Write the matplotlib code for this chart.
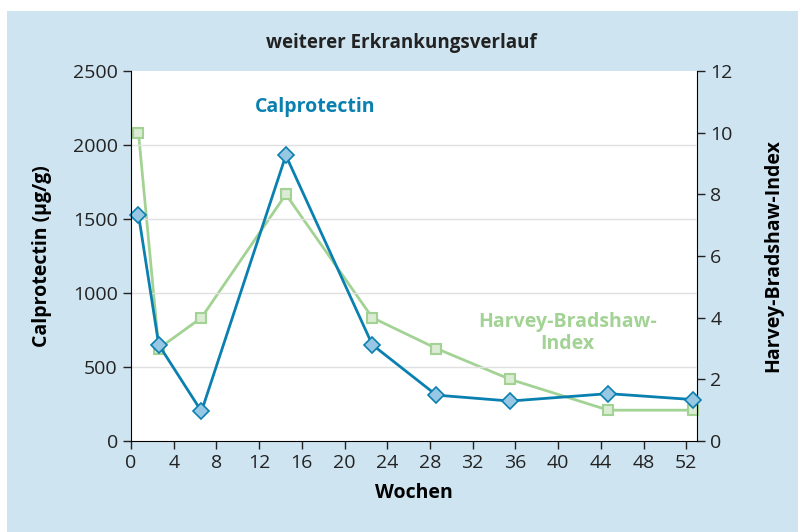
import matplotlib
matplotlib.use("Agg")
import matplotlib.pyplot as plt
from matplotlib.patches import Rectangle

plt.rcParams["font.family"] = ["Open Sans", "DejaVu Sans"]

# weeks and values
wochen_cal = [0.7, 2.6, 6.6, 14.5, 22.6, 28.6, 35.5, 44.7, 52.6]
calprotectin = [1530, 650, 200, 1930, 650, 310, 270, 320, 280]
wochen_hbi = [0.7, 2.6, 6.6, 14.5, 22.6, 28.6, 35.5, 44.7, 52.6]
hbi = [10, 3, 4, 8, 4, 3, 2, 1, 1]

x_ticks = list(range(0, 53, 4))
cal_ticks = [0, 500, 1000, 1500, 2000, 2500]
hbi_ticks = [0, 2, 4, 6, 8, 10, 12]

blue = "#0a80b0"
blue_face = "#97c7e3"
green = "#a3d394"
green_face = "#dcebd3"
panel = "#cfe4f1"

fig = plt.figure(figsize=(8.02, 5.32), dpi=100)
fig.patch.set_facecolor("white")
fig.patches.append(Rectangle((7 / 802, 0), 791 / 802, 1 - 11 / 532,
                             transform=fig.transFigure, facecolor=panel,
                             edgecolor="none", zorder=-10))

ax = fig.add_axes([131 / 802, 1 - 441 / 532, 566 / 802, 370 / 532])
ax2 = ax.twinx()
ax2.set_zorder(1)
ax.set_zorder(2)
ax.patch.set_visible(False)
ax2.patch.set_visible(True)
ax2.patch.set_facecolor("white")

# HBI (right axis)
ax2.plot(wochen_hbi, hbi, color=green, lw=2, marker="s", ms=7.5,
         mfc=green_face, mec=green, mew=1.5, clip_on=False)
ax2.set_ylim(0, 12)
ax2.set_yticks(hbi_ticks)
ax2.set_ylabel("Harvey-Bradshaw-Index", fontsize=14, fontweight="bold", labelpad=22)

# Calprotectin (left axis)
ax.plot(wochen_cal, calprotectin, color=blue, lw=2, marker="D", ms=8,
        mfc=blue_face, mec=blue, mew=1.2, clip_on=False)
ax.set_ylim(0, 2500)
ax.set_xlim(0, 53)
ax.set_yticks(cal_ticks)
ax.set_xticks(x_ticks)
for v in cal_ticks[1:-1]:
    ax.axhline(v, color="#e0e0e0", lw=1, zorder=0)
ax.set_ylabel("Calprotectin (µg/g)", fontsize=14, fontweight="bold", labelpad=15)
ax.set_xlabel("Wochen", fontsize=14, fontweight="bold", labelpad=8)

for a in (ax, ax2):
    a.spines["top"].set_visible(False)
    a.tick_params(direction="out", length=6, width=1, labelsize=14, colors="#222222")
ax.spines["right"].set_visible(False)
ax2.spines["left"].set_visible(False)
ax2.spines["bottom"].set_visible(False)

ax.text(17.2, 2260, "Calprotectin", color=blue, fontsize=14, fontweight="bold",
        ha="center", va="center")
ax.text(40.9, 730, "Harvey-Bradshaw-\nIndex", color=green, fontsize=14,
        fontweight="bold", ha="center", va="center", linespacing=1.1)

fig.text(0.5, 1 - 43 / 532, "weiterer Erkrankungsverlauf", fontsize=13.5,
         fontweight="bold", ha="center", va="center", color="#222222")

fig.savefig("out.png", dpi=100)
